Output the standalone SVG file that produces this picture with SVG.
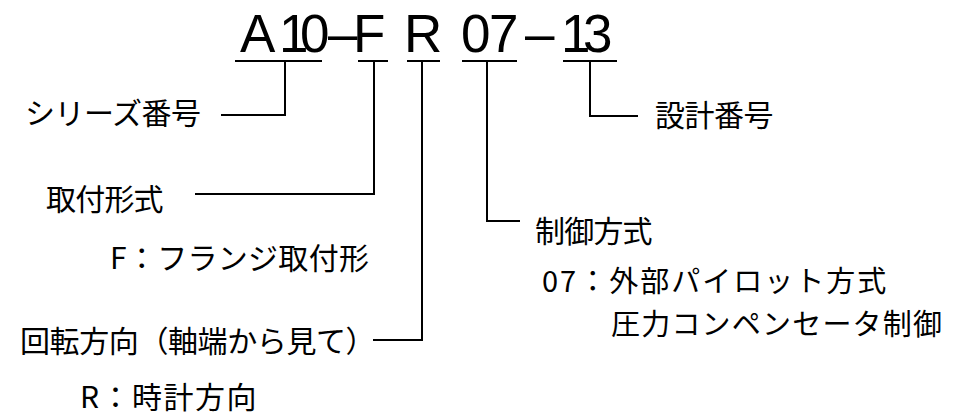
<svg xmlns="http://www.w3.org/2000/svg" width="955" height="418" viewBox="0 0 955 418">
<style>
.t{font-family:"Noto Sans CJK JP","Noto Sans",sans-serif;font-size:30px;fill:#000}
.s{font-size:29px}
.code{font-family:"Liberation Sans",Arial,sans-serif;font-size:53px;fill:#000}
.ln{fill:none;stroke:#000;stroke-width:2}
</style>
<rect width="955" height="418" fill="#fff"/>
<g id="code">
<text class="code" y="52" x="240 279 300 328 353 383 404 440 461 489 525 561 583">A10–F R 07–13</text>
</g>
<g id="connectors">
<path class="ln" d="M235 61H322M358 61H388M407 61H440M462 61H517M563 61H617"/>
<path class="ln" d="M221 115H285V61"/>
<path class="ln" d="M195 194H374V61"/>
<path class="ln" d="M373 340H422V61"/>
<path class="ln" d="M520 221H487V61"/>
<path class="ln" d="M638 116H590V61"/>
</g>
<g id="series">
<text class="t" x="25" y="124" letter-spacing="-0.5">シリーズ番号</text>
</g>
<g id="design">
<text class="t" x="655" y="126" letter-spacing="-0.5">設計番号</text>
</g>
<g id="mounting">
<text class="t" x="46" y="210" letter-spacing="-0.8">取付形式</text>
<text class="t" x="110" y="269" letter-spacing="0.3">F：フランジ取付形</text>
</g>
<g id="rotation">
<text class="t" x="20" y="352" letter-spacing="-0.4">回転方向（軸端から見て）</text>
<text class="t" x="80" y="408" letter-spacing="1.5">R：時計方向</text>
</g>
<g id="control">
<text class="t" x="535" y="242" letter-spacing="-0.8">制御方式</text>
<text class="t s" x="542" y="292" letter-spacing="2">07：外部パイロット方式</text>
<text class="t s" x="611" y="335" letter-spacing="1.2">圧力コンペンセータ制御</text>
</g>
</svg>
